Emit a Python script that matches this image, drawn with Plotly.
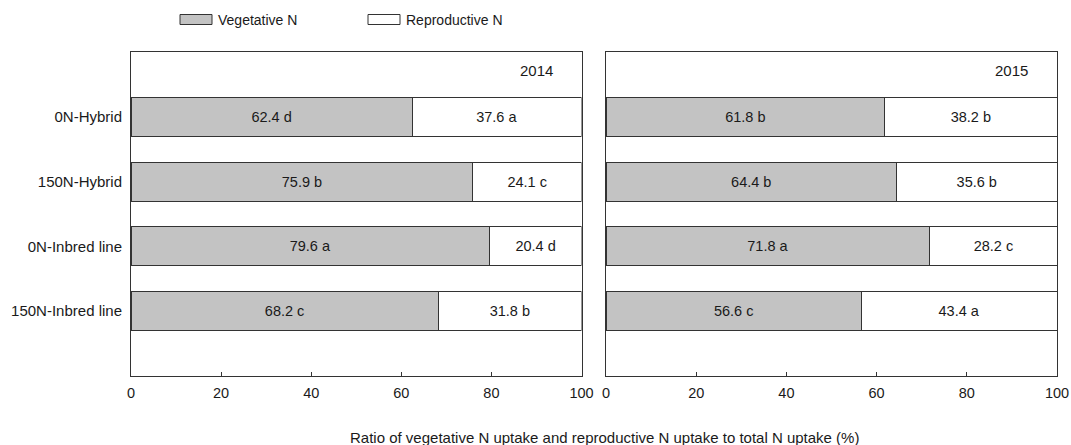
import plotly.graph_objects as go

W, H = 1071, 445

categories = ["0N-Hybrid", "150N-Hybrid", "0N-Inbred line", "150N-Inbred line"]
veg_2014 = [62.4, 75.9, 79.6, 68.2]
rep_2014 = [37.6, 24.1, 20.4, 31.8]
veg_2014_letters = ["d", "b", "a", "c"]
rep_2014_letters = ["a", "c", "d", "b"]
veg_2015 = [61.8, 64.4, 71.8, 56.6]
rep_2015 = [38.2, 35.6, 28.2, 43.4]
veg_2015_letters = ["b", "b", "a", "c"]
rep_2015_letters = ["b", "b", "c", "a"]
years = ["2014", "2015"]
x_ticks = [0, 20, 40, 60, 80, 100]
series_names = ["Vegetative N", "Reproductive N"]
x_title = "Ratio of vegetative N uptake and reproductive N uptake to total N uptake (%)"

FONT = "Liberation Sans, Arial, sans-serif"
LINE = "#333333"
GRAY = "#c3c3c3"
TXT = "#1a1a1a"

def lab(vals, letters):
    return [f"{v:.1f} {l}" for v, l in zip(vals, letters)]

fig = go.Figure()
panels = [
    ("x", "y", veg_2014, rep_2014, veg_2014_letters, rep_2014_letters),
    ("x2", "y2", veg_2015, rep_2015, veg_2015_letters, rep_2015_letters),
]
for xa, ya, veg, rep, vl, rl in panels:
    fig.add_trace(go.Bar(
        y=categories, x=veg, orientation="h", xaxis=xa, yaxis=ya,
        name=series_names[0], showlegend=False,
        marker=dict(color=GRAY, line=dict(color=LINE, width=1)),
        width=0.6, text=lab(veg, vl), textposition="inside",
        insidetextanchor="middle", textangle=0,
        textfont=dict(family=FONT, size=14.5, color=TXT),
        constraintext="none", hoverinfo="x+y",
    ))
    fig.add_trace(go.Bar(
        y=categories, x=rep, orientation="h", xaxis=xa, yaxis=ya,
        name=series_names[1], showlegend=False,
        marker=dict(color="white", line=dict(color=LINE, width=1)),
        width=0.6, text=lab(rep, rl), textposition="inside",
        insidetextanchor="middle", textangle=0,
        textfont=dict(family=FONT, size=14.5, color=TXT),
        constraintext="none", hoverinfo="x+y",
    ))

ydom = [1 - 376 / H, 1 - 52 / H]
xdom1 = [131 / W, 581.5 / W]
xdom2 = [606 / W, 1057 / W]

xcommon = dict(range=[0, 100], tickvals=x_ticks, ticks="inside", ticklen=4,
               tickcolor=LINE, showline=True, linecolor=LINE, linewidth=1,
               mirror=True, showgrid=False, zeroline=False, automargin=False,
               ticklabelstandoff=4,
               tickfont=dict(family=FONT, size=14.5, color=TXT))
ycommon = dict(type="category", categoryorder="array", categoryarray=categories,
               range=[4, -1], showline=True, linecolor=LINE, linewidth=1,
               mirror=True, showgrid=False, zeroline=False, ticks="", automargin=False,
               tickfont=dict(family=FONT, size=15, color=TXT))

fig.update_layout(
    width=W, height=H, barmode="stack",
    margin=dict(l=0, r=0, t=0, b=0, autoexpand=False),
    paper_bgcolor="white", plot_bgcolor="white",
    font=dict(family=FONT, size=14, color=TXT),
    showlegend=False,
    xaxis=dict(domain=xdom1, anchor="y", **xcommon),
    xaxis2=dict(domain=xdom2, anchor="y2", **xcommon),
    yaxis=dict(domain=ydom, anchor="x", showticklabels=True, ticklabelstandoff=5, **ycommon),
    yaxis2=dict(domain=ydom, anchor="x2", showticklabels=False, **ycommon),
)

# year labels
for xr, yr, yrtxt in [("x", "y", years[0]), ("x2", "y2", years[1])]:
    fig.add_annotation(x=90, y=-0.71, xref=xr, yref=yr, text=yrtxt, showarrow=False,
                       xanchor="center", yanchor="middle",
                       font=dict(family=FONT, size=15, color=TXT))

# x-axis title
fig.add_annotation(x=604 / W, y=1 - 437 / H, xref="paper", yref="paper", text=x_title,
                   showarrow=False, xanchor="center", yanchor="middle",
                   font=dict(family=FONT, size=15, color=TXT))

# legend
leg = [(180, 212, GRAY, 216, series_names[0]), (368, 400, "white", 404, series_names[1])]
for x0, x1, col, tx, name in leg:
    fig.add_shape(type="rect", xref="paper", yref="paper",
                  x0=x0 / W, x1=x1 / W, y0=1 - 24.5 / H, y1=1 - 14.5 / H,
                  fillcolor=col, line=dict(color=LINE, width=1))
    fig.add_annotation(x=tx / W, y=1 - 20 / H, xref="paper", yref="paper", text=name,
                       xanchor="left", yanchor="middle", showarrow=False,
                       font=dict(family=FONT, size=14, color=TXT))

fig.write_html("out.html", config={"displayModeBar": False},
               post_script="document.body.style.margin='0';document.body.style.padding='0';")
